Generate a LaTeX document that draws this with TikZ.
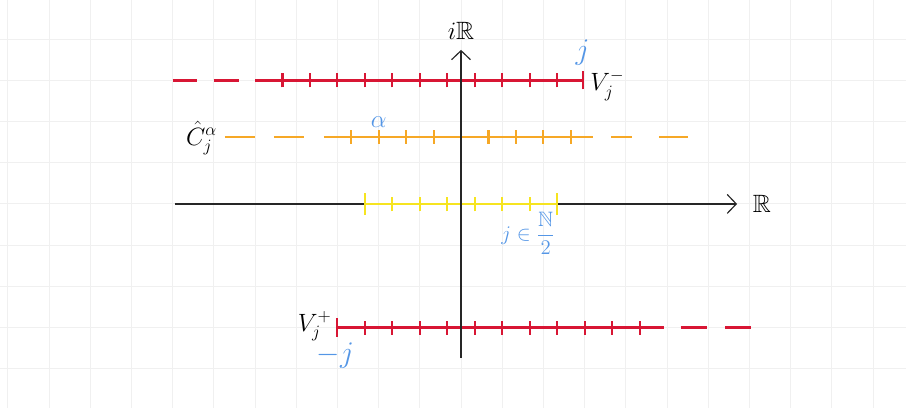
\documentclass[tikz,border=0pt]{standalone}
\usepackage{amsmath,amssymb}
\usetikzlibrary{arrows.meta}
\definecolor{vred}{RGB}{216,22,52}
\definecolor{corange}{RGB}{246,168,38}
\definecolor{ryellow}{RGB}{246,228,32}
\definecolor{lblue}{RGB}{84,150,230}
\begin{document}
\begin{tikzpicture}[x=1cm, y=1cm]
\tikzset{
    gridline/.style={draw=black!6, line width=0.7pt},
    axisline/.style={draw=black!85, line width=0.8pt, -{Straight Barb[length=2.2mm, width=4.6mm]}},
    colline/.style={line width=1.7pt},
    tickmark/.style={line width=1.4pt},
    bluelabel/.style={text=lblue, font=\huge},
    every node/.style={inner sep=1pt}
}
\useasboundingbox (-11.19,-4.95) rectangle (10.80,4.95);

% grid in the background
\draw[gridline] (-11.19,-4.95) grid (10.80,4.95);

% real axis
\draw[axisline] (-6.95,0) -- (6.7,0);
\node[font=\LARGE] (re) at (7.3,0) {$\mathbb{R}$};

% V_j^- (top)
\draw[vred, colline, dash pattern=on 0.6cm off 0.4cm] (-7,3) -- (-5,3);
\draw[vred, colline] (-5,3) -- (2.95,3);
\foreach \k in {-13,-11,...,7}
    \draw[vred, tickmark] (\k/3,2.83) -- (\k/3,3.17);
\draw[vred, tickmark] (2.95,2.78) -- (2.95,3.22);
\node[font=\LARGE, anchor=west] (vminus) at (3.1,2.88) {$V_j^-$};
\node[bluelabel] (jtop) at (2.95,3.68) {$j$};

% C_j^alpha (orange)
\draw[corange, colline] (-5.73,1.63) -- (-5.0,1.63);
\draw[corange, colline] (-4.54,1.63) -- (-3.81,1.63);
\draw[corange, colline] (-3.33,1.63) -- (3.2,1.63);
\draw[corange, colline] (3.64,1.63) -- (4.15,1.63);
\draw[corange, colline] (4.8,1.63) -- (5.5,1.63);
\foreach \k in {-4,...,4}
    \draw[corange, tickmark] (2*\k/3,1.46) -- (2*\k/3,1.8);
\node[font=\LARGE, anchor=east] (chat) at (-5.88,1.6) {$\hat{C}_j^{\alpha}$};
\node[text=lblue, font=\LARGE] (alpha) at (-2,1.98) {$\alpha$};

% yellow segment on the real axis
\draw[ryellow, colline] (-7/3,0) -- (7/3,0);
\foreach \k in {-5,-3,...,5}
    \draw[ryellow, tickmark] (\k/3,-0.18) -- (\k/3,0.18);
\foreach \k in {-7,7}
    \draw[ryellow, tickmark] (\k/3,-0.27) -- (\k/3,0.27);
\node[text=lblue, font=\Large] (half) at (1.63,-0.72) {$j\in\dfrac{\mathbb{N}}{2}$};

% V_j^+ (bottom)
\draw[vred, colline] (-3,-3) -- (4.92,-3);
\draw[vred, colline, dash pattern=on 0.63cm off 0.45cm] (5.33,-3) -- (7.05,-3);
\foreach \k in {-7,-5,...,13}
    \draw[vred, tickmark] (\k/3,-3.17) -- (\k/3,-2.83);
\draw[vred, tickmark] (-3,-3.22) -- (-3,-2.78);
\node[font=\LARGE, anchor=east] (vplus) at (-3.1,-2.97) {$V_j^+$};
\node[bluelabel] (jbot) at (-3.05,-3.68) {$-j$};

% imaginary axis
\draw[axisline] (0,-3.74) -- (0,3.74);
\node[font=\LARGE] (im) at (0,4.2) {$i\mathbb{R}$};
\end{tikzpicture}
\end{document}
